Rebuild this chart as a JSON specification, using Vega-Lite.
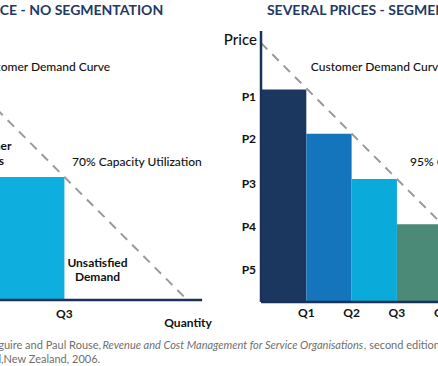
{
  "$schema": "https://vega.github.io/schema/vega-lite/v6.json",
  "width": 438,
  "height": 366,
  "padding": 0,
  "autosize": {"type": "none"},
  "background": "white",
  "config": {"view": {"stroke": null}, "font": "Lato"},
  "resolve": {"scale": {"x": "independent", "y": "independent", "color": "independent"}},
  "layer": [
    {
      "encoding": {
        "x": {"field": "q", "type": "quantitative", "scale": {"domain": [1.578, 11.247], "nice": false, "zero": false}, "axis": null},
        "y": {"field": "p", "type": "quantitative", "scale": {"domain": [-2.548, 11.583], "nice": false, "zero": false}, "axis": null}
      },
      "layer": [
        {
          "data": {"values": [{"q": 0, "q2": 3, "p": 0, "p2": 4.75}]},
          "mark": {"type": "rect", "color": "#0eaede"},
          "encoding": {"x2": {"field": "q2"}, "y2": {"field": "p2"}}
        },
        {
          "data": {"values": [{"q": 0, "p": 10}, {"q": 5.714, "p": 0}]},
          "mark": {"type": "line", "color": "#9a9a9a", "strokeWidth": 2, "strokeDash": [9, 7]},
          "encoding": {}
        },
        {
          "data": {"values": [{"q": 0, "q2": 6.04, "p": 0, "p2": 0}, {"q": 0, "q2": 0, "p": 0, "p2": 10.46}]},
          "mark": {"type": "rule", "color": "#1b3157", "strokeWidth": 2.5},
          "encoding": {"x2": {"field": "q2"}, "y2": {"field": "p2"}}
        },
        {
          "data": {"values": [
            {"q": 3, "p": -0.54, "label": "Q3"},
            {"q": 5.73, "p": -0.89, "label": "Quantity"},
            {"q": 3.73, "p": 1.43, "label": "Unsatisfied"},
            {"q": 3.73, "p": 0.89, "label": "Demand"},
            {"q": 1.23, "p": 5.95, "label": "Consumer"},
            {"q": 1.23, "p": 5.37, "label": "Surplus"}
          ]},
          "mark": {"type": "text", "fontSize": 12, "fontWeight": "bold", "color": "#111111", "align": "center", "baseline": "middle"},
          "encoding": {"text": {"field": "label"}}
        },
        {
          "data": {"values": [
            {"q": 3.17, "p": 5.33, "label": "70% Capacity Utilization"},
            {"q": 1.06, "p": 9.0, "label": "Customer Demand Curve"}
          ]},
          "mark": {"type": "text", "fontSize": 12, "fontWeight": 500, "color": "#111111", "align": "left", "baseline": "middle"},
          "encoding": {"text": {"field": "label"}}
        },
        {
          "data": {"values": [{"q": 5.18, "p": 11.16, "label": "ONE PRICE - NO SEGMENTATION"}]},
          "mark": {"type": "text", "fontSize": 14, "fontWeight": "bold", "color": "#1f3a64", "align": "right", "baseline": "middle"},
          "encoding": {"text": {"field": "label"}}
        },
        {
          "data": {"values": [
            {"q": 3.81, "p": -1.78, "label": "Source: Maguire and Paul Rouse, "},
            {"q": 3.79, "p": -2.32, "label": "Pearson Education, Auckland,New Zealand, 2006."}
          ]},
          "mark": {"type": "text", "fontSize": 11, "color": "#6f6f6f", "align": "right", "baseline": "middle"},
          "encoding": {"text": {"field": "label"}}
        },
        {
          "data": {"values": [{"q": 3.84, "p": -1.78, "label": "Revenue and Cost Management for Service Organisations"}]},
          "mark": {"type": "text", "fontSize": 11, "fontStyle": "italic", "color": "#6f6f6f", "align": "left", "baseline": "middle"},
          "encoding": {"text": {"field": "label"}}
        },
        {
          "data": {"values": [{"q": 9.61, "p": -1.78, "label": ", second edition, Pearson Education,"}]},
          "mark": {"type": "text", "fontSize": 11, "color": "#6f6f6f", "align": "left", "baseline": "middle"},
          "encoding": {"text": {"field": "label"}}
        }
      ]
    },
    {
      "encoding": {
        "x": {"field": "q", "type": "quantitative", "scale": {"domain": [-5.762, 3.907], "nice": false, "zero": false}, "axis": null},
        "y": {"field": "p", "type": "quantitative", "scale": {"domain": [-2.471, 11.66], "nice": false, "zero": false}, "axis": null}
      },
      "layer": [
        {
          "data": {"values": [
            {"segment": "P1", "q": 0, "q2": 1, "p": 8.2, "p2": 0},
            {"segment": "P2", "q": 1, "q2": 2, "p": 6.5, "p2": 0},
            {"segment": "P3", "q": 2, "q2": 3, "p": 4.75, "p2": 0},
            {"segment": "P4", "q": 3, "q2": 4, "p": 3.0, "p2": 0},
            {"segment": "P5", "q": 4, "q2": 5, "p": 1.25, "p2": 0}
          ]},
          "mark": {"type": "rect"},
          "encoding": {
            "x2": {"field": "q2"},
            "y2": {"field": "p2"},
            "color": {"field": "segment", "type": "nominal", "legend": null,
              "scale": {"domain": ["P1", "P2", "P3", "P4", "P5"], "range": ["#1b365f", "#1475bd", "#0aabda", "#4a8a76", "#1b365f"]}}
          }
        },
        {
          "data": {"values": [{"q": 0, "p": 10}, {"q": 5.714, "p": 0}]},
          "mark": {"type": "line", "color": "#9a9a9a", "strokeWidth": 2, "strokeDash": [9, 7]},
          "encoding": {}
        },
        {
          "data": {"values": [{"q": 0, "q2": 6.5, "p": 0, "p2": 0}, {"q": 0, "q2": 0, "p": 0, "p2": 10.46}]},
          "mark": {"type": "rule", "color": "#1b3157", "strokeWidth": 2.5},
          "encoding": {"x2": {"field": "q2"}, "y2": {"field": "p2"}}
        },
        {
          "data": {"values": [
            {"q": -0.11, "p": 7.92, "label": "P1"},
            {"q": -0.11, "p": 6.29, "label": "P2"},
            {"q": -0.11, "p": 4.56, "label": "P3"},
            {"q": -0.11, "p": 2.89, "label": "P4"},
            {"q": -0.11, "p": 1.24, "label": "P5"}
          ]},
          "mark": {"type": "text", "fontSize": 12, "fontWeight": "bold", "color": "#111111", "align": "right", "baseline": "middle"},
          "encoding": {"text": {"field": "label"}}
        },
        {
          "data": {"values": [
            {"q": 1, "p": -0.41, "label": "Q1"},
            {"q": 2, "p": -0.41, "label": "Q2"},
            {"q": 3, "p": -0.41, "label": "Q3"},
            {"q": 4, "p": -0.41, "label": "Q4"}
          ]},
          "mark": {"type": "text", "fontSize": 12, "fontWeight": "bold", "color": "#111111", "align": "center", "baseline": "middle"},
          "encoding": {"text": {"field": "label"}}
        },
        {
          "data": {"values": [{"q": -0.09, "p": 10.12, "label": "Price"}]},
          "mark": {"type": "text", "fontSize": 15, "fontWeight": 500, "color": "#111111", "align": "right", "baseline": "middle"},
          "encoding": {"text": {"field": "label"}}
        },
        {
          "data": {"values": [
            {"q": 1.10, "p": 9.07, "label": "Customer Demand Curve"},
            {"q": 3.29, "p": 5.41, "label": "95% Capacity Utilization"}
          ]},
          "mark": {"type": "text", "fontSize": 12, "fontWeight": 500, "color": "#111111", "align": "left", "baseline": "middle"},
          "encoding": {"text": {"field": "label"}}
        },
        {
          "data": {"values": [{"q": 0.13, "p": 11.24, "label": "SEVERAL PRICES - SEGMENTATION"}]},
          "mark": {"type": "text", "fontSize": 14, "fontWeight": "bold", "color": "#1f3a64", "align": "left", "baseline": "middle"},
          "encoding": {"text": {"field": "label"}}
        }
      ]
    }
  ]
}
